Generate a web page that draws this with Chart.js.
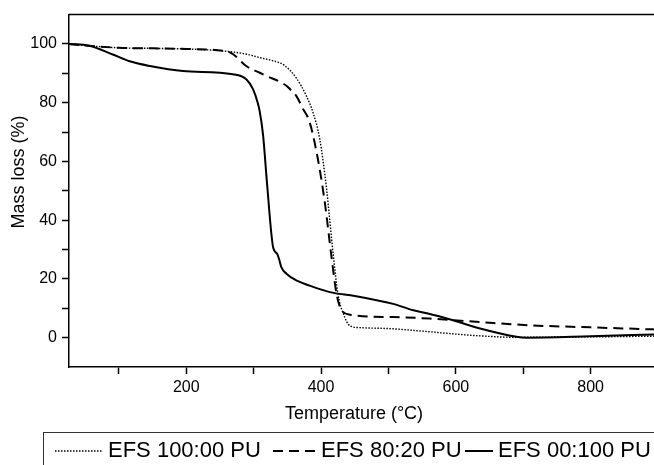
<!DOCTYPE html>
<html><head><meta charset="utf-8">
<script src="https://cdn.jsdelivr.net/npm/chart.js@4"></script>
<style>html,body{margin:0;padding:0;background:#fff;overflow:hidden}#wrap{width:654px;height:465px;position:relative}</style>
</head><body><div id="wrap"><canvas id="c" width="654" height="465"></canvas></div>
<script>
// ---- data ----
const seriesNames = ["EFS 100:00 PU", "EFS 80:20 PU", "EFS 00:100 PU"];
const tempA = [26, 60, 100, 150, 200, 260, 290, 310, 330, 345, 363, 378, 388, 398, 408, 418, 425, 433, 443, 458, 507, 561, 600, 636, 690, 750, 820, 894];
const massA = [100, 99.3, 98.7, 98.5, 98.3, 97.5, 96.5, 95.3, 94.2, 92.8, 88.5, 82.4, 76.7, 67.7, 50.9, 28.4, 14.9, 8.2, 4.0, 3.4, 3.0, 2.0, 1.2, 0.6, 0.1, 0.2, 0.3, 0.5];
const tempB = [26, 60, 100, 150, 200, 260, 270, 289, 309, 319, 339, 349, 354, 363, 373, 383, 396, 406, 415, 423, 430, 443, 507, 561, 636, 710, 800, 894];
const massB = [100, 99.3, 98.7, 98.5, 98.3, 97.5, 96.4, 92.5, 90.2, 89.1, 87.1, 85.7, 84.6, 82.4, 78, 73.4, 59.9, 45.3, 28.4, 14.9, 9.5, 7.8, 7.0, 6.5, 5.3, 4.2, 3.5, 2.8];
const tempC = [26, 56, 91, 116, 146, 195, 269, 289, 299, 306, 309, 314, 320, 329, 335, 338, 341, 349, 365, 383, 413, 450, 507, 537, 557, 596, 636, 690, 705, 800, 894];
const massC = [100, 99.4, 96.4, 94.1, 92.5, 90.8, 89.7, 88, 84.6, 80, 77, 68.9, 52, 30.6, 28.5, 26.5, 24, 21.7, 19.3, 17.7, 15.5, 14.2, 11.5, 9.3, 8.3, 5.9, 3.1, 0.3, 0, 0.5, 1.1];
const xTicks = [100, 200, 300, 400, 500, 600, 700, 800];
const yTicks = [0, 10, 20, 30, 40, 50, 60, 70, 80, 90, 100];
const xTitle = "Temperature (°C)";
const yTitle = "Mass loss (%)";

const FONT = "'Liberation Sans', Arial, sans-serif";
const styles = [
  {dash: [1.5, 1.5], width: 1.4},
  {dash: [10, 6], width: 2},
  {dash: [], width: 2}
];
const pts = (xs, ys) => xs.map((x, i) => ({x: x, y: ys[i]}));
const dataSets = [pts(tempA, massA), pts(tempB, massB), pts(tempC, massC)];

const decor = {
  id: 'decor',
  afterDraw(chart) {
    const ctx = chart.ctx, a = chart.chartArea;
    ctx.save();
    ctx.strokeStyle = '#000'; ctx.lineWidth = 1.5;
    ctx.beginPath(); ctx.moveTo(a.left, a.top); ctx.lineTo(654, a.top); ctx.stroke();
    ctx.fillStyle = '#000';
    ctx.font = '18px ' + FONT;
    ctx.textAlign = 'center'; ctx.textBaseline = 'middle';
    ctx.fillText(xTitle, 354, 414);
    ctx.save(); ctx.translate(19, 172); ctx.rotate(-Math.PI / 2);
    ctx.fillText(yTitle, 0, 0); ctx.restore();
    ctx.lineWidth = 1; ctx.strokeStyle = '#333';
    ctx.strokeRect(43.5, 432.5, 700, 60);
    const items = [
      {s0: 55, s1: 103, t: 108},
      {s0: 273, s1: 316, t: 321},
      {s0: 465, s1: 493, t: 498}
    ];
    ctx.font = '22px ' + FONT; ctx.textAlign = 'left';
    items.forEach((it, i) => {
      ctx.strokeStyle = '#000'; ctx.lineWidth = styles[i].width;
      ctx.setLineDash(styles[i].dash);
      ctx.beginPath(); ctx.moveTo(it.s0, 451); ctx.lineTo(it.s1, 451); ctx.stroke();
      ctx.setLineDash([]);
      ctx.fillText(seriesNames[i], it.t, 451);
    });
    ctx.restore();
  }
};

new Chart(document.getElementById('c'), {
  type: 'line',
  data: {
    datasets: seriesNames.map((n, i) => ({
      label: n,
      data: dataSets[i],
      borderColor: '#000',
      borderWidth: styles[i].width,
      borderDash: styles[i].dash,
      pointRadius: 0,
      fill: false,
      cubicInterpolationMode: 'monotone'
    }))
  },
  options: {
    responsive: false,
    animation: false,
    devicePixelRatio: 1,
    layout: {padding: {top: 11, right: 0, left: 0, bottom: 0}},
    plugins: {legend: {display: false}, tooltip: {enabled: false}},
    scales: {
      x: {
        type: 'linear', min: 26, max: 894,
        afterBuildTicks: s => { s.ticks = xTicks.map(v => ({value: v})); },
        afterFit: s => { s.height = 98; },
        ticks: {
          color: '#000', font: {size: 16, family: FONT}, padding: 4, maxRotation: 0, autoSkip: false,
          callback: v => (v % 200 === 0 ? String(v) : '')
        },
        grid: {drawOnChartArea: false, drawTicks: true, tickLength: 7, tickColor: '#000', tickWidth: 1.5},
        border: {display: true, color: '#000', width: 1.5}
      },
      y: {
        type: 'linear', min: -10, max: 110,
        afterBuildTicks: s => { s.ticks = yTicks.map(v => ({value: v})); },
        afterFit: s => { s.width = 69; },
        ticks: {
          color: '#000', font: {size: 16, family: FONT}, padding: 5, autoSkip: false,
          callback: v => (v % 20 === 0 ? String(v) : '')
        },
        grid: {drawOnChartArea: false, drawTicks: true, tickLength: 7, tickColor: '#000', tickWidth: 1.5},
        border: {display: true, color: '#000', width: 1.5}
      }
    }
  },
  plugins: [decor]
});
</script>
</body></html>
